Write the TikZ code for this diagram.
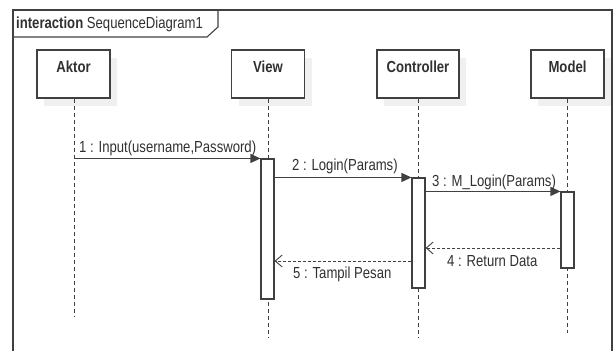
\documentclass[tikz,border=0pt]{standalone}
\usepackage{fontspec}
\setmainfont{Liberation Sans}[FakeStretch=0.82]
\usetikzlibrary{arrows.meta,shadows}
\definecolor{ln}{HTML}{404040}
\definecolor{tx}{HTML}{303030}
\begin{document}
\begin{tikzpicture}[x=1pt,y=-1pt,
  every node/.style={font=\fontsize{16}{18}\selectfont, text=tx},
  headbox/.style={draw=ln, line width=1.1pt, fill=white, minimum width=73pt,
    inner xsep=0pt, inner ysep=11pt, text height=11pt, text depth=14pt,
    font=\fontsize{16}{18}\selectfont\bfseries,
    drop shadow={shadow xshift=7pt, shadow yshift=-8pt, fill=black!6, opacity=1}},
  actbox/.style={draw=ln, line width=1.1pt, fill=white, minimum width=13pt, inner sep=0pt},
  lifeline/.style={draw=ln, line width=0.9pt, dash pattern=on 4pt off 3pt},
  msg/.style={draw=ln, line width=1.1pt, -{Triangle[length=10pt,width=9pt]}},
  ret/.style={draw=ln, line width=0.9pt, dash pattern=on 3pt off 2pt, -{Straight Barb[length=7pt,width=12pt]}},
  lbl/.style={anchor=base west, inner sep=0pt}
]
\useasboundingbox (0,0) rectangle (616,351);
% frame
\draw[ln, line width=1.1pt] (13,351) -- (13,10) -- (612,10) -- (612,351);
\draw[ln, line width=1.1pt] (13,37) -- (207,37) -- (218,27) -- (218,10);
\node[lbl] (title) at (16,28) {\textbf{interaction} SequenceDiagram1};
% heads
\node[headbox, minimum height=48pt] (aktor) at (73.5,74) {Aktor};
\node[headbox, minimum height=48pt] (view) at (268,74) {View};
\node[headbox, minimum height=48pt, minimum width=82pt] (ctrl) at (418,74) {Controller};
\node[headbox, minimum height=48pt] (model) at (567.5,74) {Model};
% lifeline ends
\coordinate (aend) at (74,317);
\coordinate (vend) at (268,338);
\coordinate (cend) at (418.5,338);
\coordinate (mend) at (567.5,333);
\draw[lifeline] (aktor.south -| aend) -- (aend);
\draw[lifeline] (view.south -| vend) -- (vend);
\draw[lifeline] (ctrl.south -| cend) -- (cend);
\draw[lifeline] (model.south -| mend) -- (mend);
% activations
\node[actbox, minimum height=140pt] (vact) at (267.5,229) {};
\node[actbox, minimum height=110pt] (cact) at (418.5,233) {};
\node[actbox, minimum height=76pt] (mact) at (567.5,230) {};
% messages
\draw[msg] (aend |- vact.north) -- (vact.north west);
\node[lbl] (l1) at (79,152) {1 : Input(username,Password)};
\draw[msg] (vact.east |- cact.north) -- (cact.north west);
\node[lbl] (l2) at (292,170) {2 : Login(Params)};
\draw[msg] (cact.east |- mact.north) -- (mact.north west);
\node[lbl] (l3) at (432,186) {3 : M\_Login(Params)};
\coordinate (y4) at (0,248);
\coordinate (y5) at (0,261);
\draw[ret] (mact.west |- y4) -- (cact.east |- y4);
\node[lbl] (l4) at (447,266) {4 : Return Data};
\draw[ret] (cact.west |- y5) -- (vact.east |- y5);
\node[lbl] (l5) at (293,278) {5 : Tampil Pesan};
\end{tikzpicture}
\end{document}
